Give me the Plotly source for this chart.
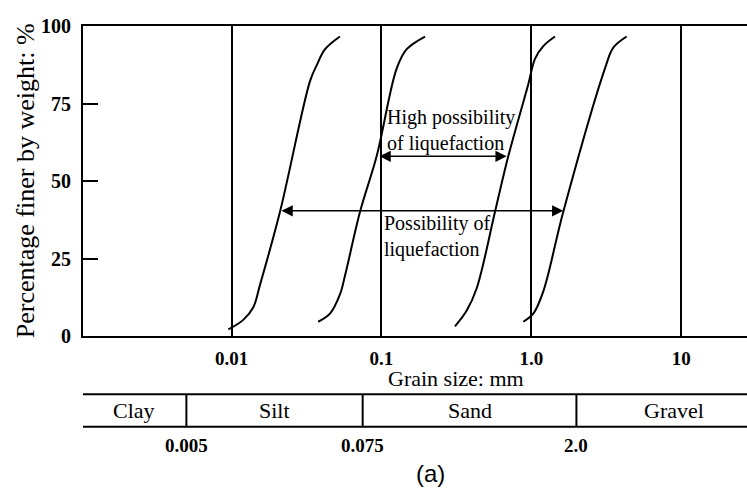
import numpy as np
import plotly.graph_objects as go

# ---------------- data ----------------
curve1_x = [0.00952, 0.01198, 0.01398, 0.01549, 0.02106, 0.0334, 0.0370, 0.0421, 0.0529]
curve1_y = [2.1, 5.2, 9.3, 16.5, 40.1, 82.3, 87.4, 92.6, 96.7]
curve2_x = [0.0379, 0.0454, 0.0529, 0.0572, 0.0720, 0.0930, 0.1265, 0.1475, 0.1954]
curve2_y = [4.6, 7.2, 13.4, 19.5, 40.1, 58.1, 86.4, 92.6, 96.7]
curve3_x = [0.3097, 0.3707, 0.4323, 0.5727, 0.7025, 0.955, 1.0585, 1.2025, 1.439]
curve3_y = [3.1, 8.2, 15.4, 40.1, 58.1, 81.3, 89.5, 93.6, 96.7]
curve4_x = [0.8843, 1.031, 1.2025, 1.635, 3.102, 3.524, 4.329]
curve4_y = [4.6, 7.2, 14.4, 40.1, 86.4, 93.1, 96.7]

x_tickvals = [0.01, 0.1, 1.0, 10]
x_ticktext = ["0.01", "0.1", "1.0", "10"]
y_tickvals = [0, 25, 50, 75, 100]

high_arrow_x = [0.0949, 0.685]
high_arrow_y = 58.0
poss_arrow_x = [0.02106, 1.635]
poss_arrow_y = 40.4

class_names = ["Clay", "Silt", "Sand", "Gravel"]
class_bounds = [0.001, 0.005, 0.075, 2.0, 40.0]
bound_labels = ["0.005", "0.075", "2.0"]

SERIF = "Liberation Serif, Times New Roman, serif"
W, H = 747, 498

fig = go.Figure()
for cx, cy in [(curve1_x, curve1_y), (curve2_x, curve2_y),
               (curve3_x, curve3_y), (curve4_x, curve4_y)]:
    fig.add_trace(go.Scatter(x=cx, y=cy, mode="lines",
                             line=dict(color="black", width=2, shape="spline", smoothing=1.0),
                             showlegend=False, hoverinfo="skip"))

ann = []
# double headed arrows
for ax_x, yv in [(high_arrow_x, high_arrow_y), (poss_arrow_x, poss_arrow_y)]:
    ann.append(dict(x=np.log10(ax_x[1]), y=yv, ax=np.log10(ax_x[0]), ay=yv,
                    xref="x", yref="y", axref="x", ayref="y", text="",
                    showarrow=True, arrowhead=2, startarrowhead=2, arrowside="end+start",
                    arrowsize=1.5, startarrowsize=1.5, arrowwidth=1.5, arrowcolor="black",
                    standoff=0, startstandoff=0))
ann.append(dict(x=np.log10(0.1055), y=66.2, xref="x", yref="y", xanchor="left", yanchor="middle",
                text="High possibility<br>of liquefaction", showarrow=False, align="left",
                font=dict(family=SERIF, size=20, color="black")))
ann.append(dict(x=np.log10(0.101), y=32.2, xref="x", yref="y", xanchor="left", yanchor="middle",
                text="Possibility of<br>liquefaction", showarrow=False, align="left",
                font=dict(family=SERIF, size=20, color="black")))

# axis titles
ann.append(dict(x=25 / W, y=(H - 178) / H, xref="paper", yref="paper", textangle=-90,
                xanchor="center", yanchor="middle", showarrow=False,
                text="Percentage finer by weight: %",
                font=dict(family=SERIF, size=26, color="black")))
ann.append(dict(x=456 / W, y=(H - 384) / H, xref="paper", yref="paper",
                xanchor="center", yanchor="middle", showarrow=False, text="Grain size: mm",
                font=dict(family=SERIF, size=22, color="black")))

# classification table
table_top = (H - 401) / H
table_bot = (H - 435) / H
shapes = []
for yy in [table_top, table_bot]:
    shapes.append(dict(type="line", xref="paper", yref="paper", x0=83 / W, x1=1.0,
                       y0=yy, y1=yy, line=dict(color="black", width=2)))
for b in class_bounds[1:-1]:
    shapes.append(dict(type="line", xref="x", yref="paper", x0=b, x1=b,
                       y0=table_bot, y1=table_top, line=dict(color="black", width=2)))
for i, name in enumerate(class_names):
    mid = (np.log10(class_bounds[i]) + np.log10(class_bounds[i + 1])) / 2
    ann.append(dict(x=mid, y=(table_top + table_bot) / 2, xref="x", yref="paper",
                    xanchor="center", yanchor="middle", showarrow=False, text=name,
                    font=dict(family=SERIF, size=22, color="black")))
for b, lab in zip(class_bounds[1:-1], bound_labels):
    ann.append(dict(x=np.log10(b), y=(H - 455) / H, xref="x", yref="paper",
                    xanchor="center", yanchor="middle", showarrow=False, text=lab,
                    font=dict(family=SERIF, size=19, color="black", weight="bold")))
ann.append(dict(x=430 / W, y=(H - 484) / H, xref="paper", yref="paper",
                xanchor="center", yanchor="middle", showarrow=False, text="(a)",
                font=dict(family="Liberation Sans, Arial, sans-serif", size=24, color="black")))

fig.update_layout(
    width=W, height=H, margin=dict(l=0, r=0, t=0, b=0),
    paper_bgcolor="white", plot_bgcolor="white",
    annotations=ann, shapes=shapes, showlegend=False,
    xaxis=dict(type="log", range=[-2.9907, 1.439], domain=[83 / W, 1.0],
               tickvals=x_tickvals, ticktext=x_ticktext, ticks="",
               showgrid=True, gridcolor="black", gridwidth=2,
               showline=True, linecolor="black", linewidth=2, mirror=True,
               zeroline=False, ticklabelstandoff=4,
               tickfont=dict(family=SERIF, size=19, color="black", weight="bold")),
    yaxis=dict(range=[0, 100], domain=[(H - 340) / H, (H - 16) / H],
               tickvals=y_tickvals, ticks="inside", ticklen=15, tickwidth=2, tickcolor="black",
               showgrid=False, zeroline=False,
               showline=True, linecolor="black", linewidth=2, ticklabelstandoff=6,
               tickfont=dict(family=SERIF, size=20, color="black", weight="bold")),
)

fig.write_html("out.html")
